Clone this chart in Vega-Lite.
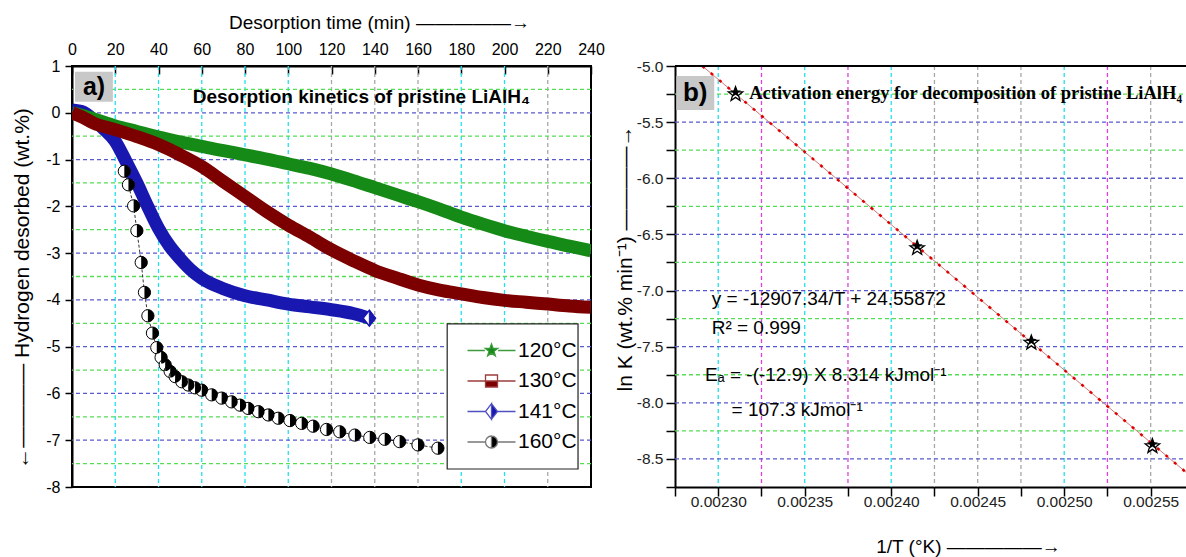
{
  "$schema": "https://vega.github.io/schema/vega-lite/v6.json",
  "padding": {"left": 9, "top": 12, "right": 0, "bottom": 0},
  "spacing": 84,
  "bounds": "flush",
  "resolve": {
    "scale": {"shape": "independent", "fill": "independent", "stroke": "independent"},
    "legend": {"shape": "independent", "fill": "independent", "stroke": "independent"}
  },
  "config": {
    "font": "Liberation Sans",
    "view": {"stroke": null},
    "legend": {
      "orient": "bottom-right", "offset": 14, "padding": 0,
      "fillColor": null, "strokeColor": null,
      "symbolSize": 144, "symbolStrokeWidth": 1.3, "symbolOffset": 18,
      "labelOffset": 16, "labelFont": "Liberation Sans", "labelFontSize": 21,
      "labelColor": "black", "rowPadding": 8.5, "symbolOpacity": 1, "labelLimit": 0,
      "titleOrient": "bottom", "titleColor": "transparent", "titleFontSize": 16, "titlePadding": 4.5
    }
  },
  "datasets": {
    "g120": [
      {"t": 0, "v": 0}, {"t": 5, "v": -0.06}, {"t": 10, "v": -0.13}, {"t": 20, "v": -0.28},
      {"t": 30, "v": -0.40}, {"t": 40, "v": -0.52}, {"t": 50, "v": -0.62}, {"t": 60, "v": -0.72},
      {"t": 70, "v": -0.81}, {"t": 80, "v": -0.90}, {"t": 90, "v": -0.99}, {"t": 100, "v": -1.09},
      {"t": 110, "v": -1.19}, {"t": 120, "v": -1.31}, {"t": 130, "v": -1.45}, {"t": 140, "v": -1.60},
      {"t": 150, "v": -1.75}, {"t": 160, "v": -1.90}, {"t": 170, "v": -2.06}, {"t": 180, "v": -2.23},
      {"t": 190, "v": -2.38}, {"t": 200, "v": -2.52}, {"t": 210, "v": -2.64}, {"t": 220, "v": -2.75},
      {"t": 230, "v": -2.85}, {"t": 240, "v": -2.95}
    ],
    "r130": [
      {"t": 0, "v": 0}, {"t": 5, "v": -0.10}, {"t": 10, "v": -0.22}, {"t": 20, "v": -0.36},
      {"t": 30, "v": -0.51}, {"t": 40, "v": -0.68}, {"t": 50, "v": -0.90}, {"t": 60, "v": -1.15},
      {"t": 70, "v": -1.47}, {"t": 80, "v": -1.79}, {"t": 90, "v": -2.11}, {"t": 100, "v": -2.40},
      {"t": 110, "v": -2.66}, {"t": 120, "v": -2.93}, {"t": 130, "v": -3.16}, {"t": 140, "v": -3.37},
      {"t": 150, "v": -3.53}, {"t": 160, "v": -3.68}, {"t": 170, "v": -3.79}, {"t": 180, "v": -3.87},
      {"t": 190, "v": -3.95}, {"t": 200, "v": -4.01}, {"t": 210, "v": -4.05}, {"t": 220, "v": -4.09},
      {"t": 230, "v": -4.13}, {"t": 240, "v": -4.16}
    ],
    "b141": [
      {"t": 0, "v": 0.06}, {"t": 5, "v": 0.02}, {"t": 10, "v": -0.15}, {"t": 15, "v": -0.36},
      {"t": 20, "v": -0.61}, {"t": 25, "v": -1.04}, {"t": 30, "v": -1.50}, {"t": 35, "v": -2.00},
      {"t": 40, "v": -2.47}, {"t": 45, "v": -2.84}, {"t": 50, "v": -3.12}, {"t": 55, "v": -3.36},
      {"t": 60, "v": -3.54}, {"t": 70, "v": -3.76}, {"t": 80, "v": -3.91}, {"t": 90, "v": -4.00},
      {"t": 100, "v": -4.09}, {"t": 110, "v": -4.15}, {"t": 120, "v": -4.21}, {"t": 130, "v": -4.29},
      {"t": 137.5, "v": -4.39}
    ],
    "b141end": [{"t": 137.5, "v": -4.39}],
    "k160": [
      {"t": 24.2, "v": -1.25}, {"t": 26.1, "v": -1.54}, {"t": 28.5, "v": -1.99}, {"t": 30.0, "v": -2.52},
      {"t": 32.0, "v": -3.20}, {"t": 33.5, "v": -3.84}, {"t": 35.1, "v": -4.34}, {"t": 37.2, "v": -4.71},
      {"t": 39.2, "v": -5.02}, {"t": 41.2, "v": -5.23}, {"t": 43.1, "v": -5.39}, {"t": 45.4, "v": -5.53},
      {"t": 47.7, "v": -5.64}, {"t": 50.8, "v": -5.75}, {"t": 53.8, "v": -5.82}, {"t": 56.9, "v": -5.88},
      {"t": 60.0, "v": -5.93}, {"t": 64.6, "v": -6.03}, {"t": 69.2, "v": -6.10}, {"t": 73.8, "v": -6.18},
      {"t": 77.7, "v": -6.25}, {"t": 81.5, "v": -6.32}, {"t": 86.2, "v": -6.39}, {"t": 90.8, "v": -6.46},
      {"t": 95.4, "v": -6.53}, {"t": 100.8, "v": -6.58}, {"t": 106.2, "v": -6.64}, {"t": 111.5, "v": -6.70},
      {"t": 117.7, "v": -6.77}, {"t": 123.8, "v": -6.82}, {"t": 130.8, "v": -6.89}, {"t": 137.7, "v": -6.94},
      {"t": 144.6, "v": -6.98}, {"t": 151.5, "v": -7.03}, {"t": 160.0, "v": -7.10}, {"t": 169.2, "v": -7.17}
    ],
    "series": [
      {"series": "120°C"}, {"series": "130°C"}, {"series": "141°C"}, {"series": "160°C"}
    ],
    "gridLcyan": [{"t": 20}, {"t": 40}, {"t": 60}, {"t": 80}, {"t": 100}, {"t": 180}, {"t": 200}],
    "gridLgray": [{"t": 120}, {"t": 140}, {"t": 160}, {"t": 220}],
    "gridLblue": [{"v": 0}, {"v": -1}, {"v": -2}, {"v": -3}, {"v": -4}, {"v": -5}, {"v": -6}, {"v": -7}],
    "gridLgreen": [{"v": 0.5}, {"v": -0.5}, {"v": -1.5}, {"v": -2.5}, {"v": -3.5}, {"v": -4.5}, {"v": -5.5}, {"v": -6.5}, {"v": -7.5}],
    "gridRcyan": [{"inv": 0.0023}, {"inv": 0.00235}, {"inv": 0.0024}, {"inv": 0.0025}],
    "gridRmag": [{"inv": 0.002325}, {"inv": 0.002375}, {"inv": 0.002525}],
    "gridRgray": [{"inv": 0.002425}, {"inv": 0.00245}, {"inv": 0.002475}, {"inv": 0.00255}],
    "gridRblue": [{"lnk": -5.5}, {"lnk": -6.0}, {"lnk": -6.5}, {"lnk": -7.0}, {"lnk": -7.5}, {"lnk": -8.0}, {"lnk": -8.5}],
    "gridRgreen": [{"lnk": -5.25}, {"lnk": -5.75}, {"lnk": -6.25}, {"lnk": -6.75}, {"lnk": -7.25}, {"lnk": -7.75}, {"lnk": -8.25}],
    "fit": [
      {"inv": 0.0022908, "lnk": -5.0}, {"inv": 0.002571, "lnk": -8.626}
    ],
    "stars": [
      {"inv": 0.00231, "lnk": -5.252}, {"inv": 0.002415, "lnk": -6.622},
      {"inv": 0.002481, "lnk": -7.465}, {"inv": 0.002551, "lnk": -8.387}
    ],
    "rborder": [{"inv": 0.002275, "inv2": 0.002571, "lnk": -5.0}],
    "rbox": [{"inv": 0.0022758, "inv2": 0.0022977, "lnk": -5.089, "lnk2": -5.392}],
    "rlabel": [{"inv": 0.0022867, "lnk": -5.24, "label": "b)"}],
    "rtitle": [{"inv": 0.0023179, "lnk": -5.237, "label": "Activation energy for decomposition of pristine LiAlH₄"}],
    "req": [
      {"inv": 0.0022962, "lnk": -7.079, "label": "y = -12907.34/T + 24.55872"},
      {"inv": 0.0022962, "lnk": -7.332, "label": "R² = 0.999"},
      {"inv": 0.0022923, "lnk": -7.75, "label": "Eₐ = -(-12.9) X 8.314 kJmol⁻¹"},
      {"inv": 0.0023077, "lnk": -8.06, "label": "= 107.3 kJmol⁻¹"}
    ],
    "one": [{}]
  },
  "hconcat": [
    {
      "width": 519,
      "height": 421,
      "view": {"stroke": "black", "strokeWidth": 2},
      "layer": [
        {
          "data": {"name": "gridLcyan"},
          "mark": {"type": "rule", "color": "#22e0ee", "strokeWidth": 1.3, "strokeDash": [4, 3]},
          "encoding": {
            "x": {
              "field": "t", "type": "quantitative",
              "scale": {"domain": [0, 240], "nice": false, "zero": false},
              "axis": {
                "orient": "top",
                "values": [0, 20, 40, 60, 80, 100, 120, 140, 160, 180, 200, 220, 240],
                "title": "Desorption time (min)  —————→",
                "titleFont": "Liberation Sans", "titleFontSize": 19, "titleFontWeight": "normal", "titleColor": "black",
                "titleX": 307, "titleY": -44, "titleBaseline": "middle", "titleAlign": "center", "titleAngle": 0,
                "labelFont": "Liberation Sans", "labelFontSize": 16, "labelColor": "black",
                "labelPadding": 17, "labelFlush": false, "labelOverlap": false,
                "tickSize": -8, "tickColor": "black", "tickWidth": 1.5,
                "domainColor": "black", "domainWidth": 2,
                "grid": false
              }
            }
          }
        },
        {
          "data": {"name": "gridLgray"},
          "mark": {"type": "rule", "color": "#a8a8a8", "strokeWidth": 1.3, "strokeDash": [4, 3]},
          "encoding": {"x": {"field": "t", "type": "quantitative", "scale": {"domain": [0, 240], "nice": false, "zero": false}}}
        },
        {
          "data": {"name": "gridLblue"},
          "mark": {"type": "rule", "color": "#5a5ad0", "strokeWidth": 1.3, "strokeDash": [4, 3]},
          "encoding": {
            "y": {
              "field": "v", "type": "quantitative",
              "scale": {"domain": [-8, 1], "nice": false, "zero": false},
              "axis": {
                "values": [-8, -7.5, -7, -6.5, -6, -5.5, -5, -4.5, -4, -3.5, -3, -2.5, -2, -1.5, -1, -0.5, 0, 0.5, 1],
                "labelExpr": "datum.value % 1 == 0 ? '' + datum.value : ''",
                "title": "←———— Hydrogen desorbed (wt.%)",
                "titleFont": "Liberation Sans", "titleFontSize": 21, "titleFontWeight": "normal", "titleColor": "black",
                "titleX": -50, "titleY": 222, "titleAngle": 270, "titleBaseline": "middle", "titleAlign": "center",
                "labelFont": "Liberation Sans", "labelFontSize": 16, "labelColor": "black",
                "labelPadding": 5, "labelOverlap": false, "labelFlush": false,
                "tickSize": 7, "tickColor": "black", "tickWidth": 1.5,
                "domainColor": "black", "domainWidth": 2,
                "grid": false
              }
            }
          }
        },
        {
          "data": {"name": "gridLgreen"},
          "mark": {"type": "rule", "color": "#55dd55", "strokeWidth": 1.3, "strokeDash": [4, 3]},
          "encoding": {"y": {"field": "v", "type": "quantitative", "scale": {"domain": [-8, 1], "nice": false, "zero": false}}}
        },
        {
          "data": {"name": "b141"},
          "mark": {"type": "line", "color": "#1818b0", "strokeWidth": 13, "strokeCap": "butt", "strokeJoin": "round", "interpolate": "monotone", "clip": true},
          "encoding": {
            "x": {"field": "t", "type": "quantitative", "scale": {"domain": [0, 240], "nice": false, "zero": false}},
            "y": {"field": "v", "type": "quantitative", "scale": {"domain": [-8, 1], "nice": false, "zero": false}}
          }
        },
        {
          "data": {"name": "g120"},
          "mark": {"type": "line", "color": "#168a16", "strokeWidth": 13, "strokeCap": "butt", "strokeJoin": "round", "interpolate": "monotone", "clip": true},
          "encoding": {
            "x": {"field": "t", "type": "quantitative", "scale": {"domain": [0, 240], "nice": false, "zero": false}},
            "y": {"field": "v", "type": "quantitative", "scale": {"domain": [-8, 1], "nice": false, "zero": false}}
          }
        },
        {
          "data": {"name": "r130"},
          "mark": {"type": "line", "color": "#7d0000", "strokeWidth": 13, "strokeCap": "butt", "strokeJoin": "round", "interpolate": "monotone", "clip": true},
          "encoding": {
            "x": {"field": "t", "type": "quantitative", "scale": {"domain": [0, 240], "nice": false, "zero": false}},
            "y": {"field": "v", "type": "quantitative", "scale": {"domain": [-8, 1], "nice": false, "zero": false}}
          }
        },
        {
          "data": {"name": "b141end"},
          "mark": {"type": "point", "shape": "M0,-1.3L1,0L0,1.3L-1,0Z", "filled": true, "fill": "white", "stroke": "#1818b0", "strokeWidth": 1.5, "size": 150, "opacity": 1},
          "encoding": {
            "x": {"field": "t", "type": "quantitative", "scale": {"domain": [0, 240], "nice": false, "zero": false}},
            "y": {"field": "v", "type": "quantitative", "scale": {"domain": [-8, 1], "nice": false, "zero": false}}
          }
        },
        {
          "data": {"name": "b141end"},
          "mark": {"type": "point", "shape": "M0,-1.3L1,0L0,1.3Z", "filled": true, "fill": "#1818b0", "stroke": "#1818b0", "strokeWidth": 1, "size": 150, "opacity": 1},
          "encoding": {
            "x": {"field": "t", "type": "quantitative", "scale": {"domain": [0, 240], "nice": false, "zero": false}},
            "y": {"field": "v", "type": "quantitative", "scale": {"domain": [-8, 1], "nice": false, "zero": false}}
          }
        },
        {
          "data": {"name": "k160"},
          "mark": {"type": "line", "color": "black", "strokeWidth": 0.8, "strokeDash": [3, 2], "clip": true},
          "encoding": {
            "x": {"field": "t", "type": "quantitative", "scale": {"domain": [0, 240], "nice": false, "zero": false}},
            "y": {"field": "v", "type": "quantitative", "scale": {"domain": [-8, 1], "nice": false, "zero": false}}
          }
        },
        {
          "data": {"name": "k160"},
          "mark": {"type": "point", "shape": "circle", "filled": true, "fill": "white", "stroke": "black", "strokeWidth": 1, "size": 150, "opacity": 1},
          "encoding": {
            "x": {"field": "t", "type": "quantitative", "scale": {"domain": [0, 240], "nice": false, "zero": false}},
            "y": {"field": "v", "type": "quantitative", "scale": {"domain": [-8, 1], "nice": false, "zero": false}}
          }
        },
        {
          "data": {"name": "k160"},
          "mark": {"type": "point", "shape": "M0,-1A1,1,0,0,1,0,1Z", "filled": true, "fill": "black", "strokeWidth": 0, "size": 150, "opacity": 1},
          "encoding": {
            "x": {"field": "t", "type": "quantitative", "scale": {"domain": [0, 240], "nice": false, "zero": false}},
            "y": {"field": "v", "type": "quantitative", "scale": {"domain": [-8, 1], "nice": false, "zero": false}}
          }
        },
        {
          "data": {"name": "one"},
          "mark": {"type": "rect", "fill": "white", "stroke": "#222", "strokeWidth": 1.2},
          "encoding": {"x": {"datum": 173.5}, "x2": {"datum": 234}, "y": {"datum": -4.513}, "y2": {"datum": -7.615}}
        },
        {
          "data": {"name": "one"},
          "mark": {"type": "rect", "color": "#c8c8c8"},
          "encoding": {"x": {"datum": 1.4}, "x2": {"datum": 18.9}, "y": {"datum": 0.877}, "y2": {"datum": 0.235}}
        },
        {
          "data": {"name": "one"},
          "mark": {"type": "text", "text": "a)", "font": "Liberation Sans", "fontSize": 25, "fontWeight": "bold", "align": "center", "baseline": "middle", "color": "black"},
          "encoding": {"x": {"datum": 10.2}, "y": {"datum": 0.556}}
        },
        {
          "data": {"name": "one"},
          "mark": {"type": "text", "text": "Desorption kinetics of pristine LiAlH₄", "font": "Liberation Sans", "fontSize": 19, "fontWeight": "bold", "align": "left", "baseline": "middle", "color": "black"},
          "encoding": {"x": {"datum": 55.8}, "y": {"datum": 0.34}}
        },
        {
          "data": {"name": "series"},
          "mark": {"type": "point", "opacity": 0, "filled": true},
          "encoding": {
            "shape": {
              "field": "series", "type": "nominal",
              "scale": {
                "domain": ["120°C", "130°C", "141°C", "160°C"],
                "range": [
                  "M-4,0L-1.1,0M1.1,0L4,0M0,-1.1L0.265,-0.364L1.046,-0.34L0.428,0.139L0.647,0.89L0,0.45L-0.647,0.89L-0.428,0.139L-1.046,-0.34L-0.265,-0.364Z",
                  "M-4,0L-1,0M1,0L4,0M-1,-1L1,-1L1,1L-1,1ZM-1,-1L-1,0L1,0L1,-1Z",
                  "M-4,0L-1,0M1,0L4,0M0,-1.3L1,0L0,1.3L-1,0ZM0,-1.3L-1,0L0,1.3Z",
                  "M-4,0L-1,0M1,0L4,0M0,-1A1,1,0,0,1,0,1A1,1,0,0,1,0,-1ZM0,-1A1,1,0,0,0,0,1Z"
                ]
              },
              "legend": {"title": ".", "orient": "bottom-right"}
            },
            "fill": {
              "field": "series", "type": "nominal",
              "scale": {"domain": ["120°C", "130°C", "141°C", "160°C"], "range": ["#168a16", "#7d0000", "#1818b0", "black"]},
              "legend": {"title": ".", "orient": "bottom-right"}
            },
            "stroke": {
              "field": "series", "type": "nominal",
              "scale": {"domain": ["120°C", "130°C", "141°C", "160°C"], "range": ["#3c9c3c", "#9c3c3c", "#5050c0", "#777777"]},
              "legend": {"title": ".", "orient": "bottom-right"}
            }
          }
        }
      ]
    },
    {
      "width": 512,
      "height": 421,
      "encoding": {
        "x": {
          "field": "inv", "type": "quantitative",
          "scale": {"domain": [0.002275, 0.002571], "nice": false, "zero": false},
          "axis": {
            "values": [0.002275, 0.0023, 0.002325, 0.00235, 0.002375, 0.0024, 0.002425, 0.00245, 0.002475, 0.0025, 0.002525, 0.00255],
            "labelExpr": "round(datum.value*1e6) % 50 == 0 ? format(datum.value, '.5f') : ''",
            "title": "1/T (°K) —————→",
            "titleFont": "Liberation Sans", "titleFontSize": 19, "titleFontWeight": "normal", "titleColor": "black",
            "titleX": 293, "titleY": 59.7, "titleBaseline": "middle", "titleAlign": "center", "titleAngle": 0,
            "labelFont": "Liberation Sans", "labelFontSize": 15.5, "labelColor": "#222",
            "labelPadding": -2, "labelOverlap": false, "labelFlush": false,
            "tickSize": 9, "tickColor": "black", "tickWidth": 1.5,
            "domainColor": "black", "domainWidth": 2,
            "grid": false
          }
        },
        "y": {
          "field": "lnk", "type": "quantitative",
          "scale": {"domain": [-8.75, -5.0], "nice": false, "zero": false},
          "axis": {
            "values": [-8.75, -8.5, -8.25, -8, -7.75, -7.5, -7.25, -7, -6.75, -6.5, -6.25, -6, -5.75, -5.5, -5.25, -5],
            "labelExpr": "abs(datum.value*2 - round(datum.value*2)) < 0.001 ? (abs(datum.value % 1) < 0.001 ? datum.value + '.0' : '' + datum.value) : ''",
            "title": "ln K (wt.% min⁻¹) ————→",
            "titleFont": "Liberation Sans", "titleFontSize": 21, "titleFontWeight": "normal", "titleColor": "black",
            "titleX": -50, "titleY": 192, "titleAngle": 270, "titleBaseline": "middle", "titleAlign": "center",
            "labelFont": "Liberation Sans", "labelFontSize": 15.5, "labelColor": "#222",
            "labelPadding": 3, "labelOverlap": false, "labelFlush": false,
            "tickSize": 9, "tickColor": "black", "tickWidth": 1.5,
            "domainColor": "black", "domainWidth": 2,
            "grid": false
          }
        }
      },
      "layer": [
        {
          "data": {"name": "gridRcyan"},
          "mark": {"type": "rule", "color": "#22e0ee", "strokeWidth": 1.3, "strokeDash": [4, 3]},
          "encoding": {"y": {"value": 0}, "y2": {"value": 421}}
        },
        {
          "data": {"name": "gridRmag"},
          "mark": {"type": "rule", "color": "#e040e0", "strokeWidth": 1.3, "strokeDash": [4, 3]},
          "encoding": {"y": {"value": 0}, "y2": {"value": 421}}
        },
        {
          "data": {"name": "gridRgray"},
          "mark": {"type": "rule", "color": "#a8a8a8", "strokeWidth": 1.3, "strokeDash": [4, 3]},
          "encoding": {"y": {"value": 0}, "y2": {"value": 421}}
        },
        {
          "data": {"name": "gridRblue"},
          "mark": {"type": "rule", "color": "#5a5ad0", "strokeWidth": 1.3, "strokeDash": [4, 3]},
          "encoding": {"x": {"value": 0}, "x2": {"value": 512}}
        },
        {
          "data": {"name": "gridRgreen"},
          "mark": {"type": "rule", "color": "#55dd55", "strokeWidth": 1.3, "strokeDash": [4, 3]},
          "encoding": {"x": {"value": 0}, "x2": {"value": 512}}
        },
        {
          "data": {"name": "fit"},
          "mark": {"type": "line", "color": "#cc7a7a", "strokeWidth": 1, "clip": true}
        },
        {
          "data": {"name": "fit"},
          "mark": {"type": "line", "color": "#e00000", "strokeWidth": 2.5, "strokeDash": [3, 8], "clip": true}
        },
        {
          "data": {"name": "rborder"},
          "mark": {"type": "rule", "color": "black", "strokeWidth": 2},
          "encoding": {"x2": {"field": "inv2"}}
        },
        {
          "data": {"name": "stars"},
          "mark": {"type": "point", "shape": "M0,-1.1L0.265,-0.364L1.046,-0.34L0.428,0.139L0.647,0.89L0,0.45L-0.647,0.89L-0.428,0.139L-1.046,-0.34L-0.265,-0.364Z", "filled": true, "fill": "white", "stroke": "black", "strokeWidth": 1.3, "size": 190, "opacity": 1}
        },
        {
          "data": {"name": "stars"},
          "mark": {"type": "point", "shape": "M0,-1.1L0.265,-0.364L1.046,-0.34L0.428,0.139L0.647,0.89L0,0.45L-0.647,0.89L-0.428,0.139L-1.046,-0.34L-0.265,-0.364Z", "filled": true, "fill": "black", "strokeWidth": 0, "size": 110, "opacity": 1},
          "encoding": {"yOffset": {"value": -2}}
        },
        {
          "data": {"name": "rbox"},
          "mark": {"type": "rect", "color": "#c8c8c8"},
          "encoding": {"x2": {"field": "inv2"}, "y2": {"field": "lnk2"}}
        },
        {
          "data": {"name": "rlabel"},
          "mark": {"type": "text", "font": "Liberation Sans", "fontSize": 26, "fontWeight": "bold", "align": "center", "baseline": "middle", "color": "black"},
          "encoding": {"text": {"field": "label"}}
        },
        {
          "data": {"name": "rtitle"},
          "mark": {"type": "text", "font": "Liberation Serif", "fontSize": 18.5, "fontWeight": "bold", "align": "left", "baseline": "middle", "color": "black"},
          "encoding": {"text": {"field": "label"}}
        },
        {
          "data": {"name": "req"},
          "mark": {"type": "text", "font": "Liberation Sans", "fontSize": 19, "align": "left", "baseline": "middle", "color": "black"},
          "encoding": {"text": {"field": "label"}}
        }
      ]
    }
  ]
}
